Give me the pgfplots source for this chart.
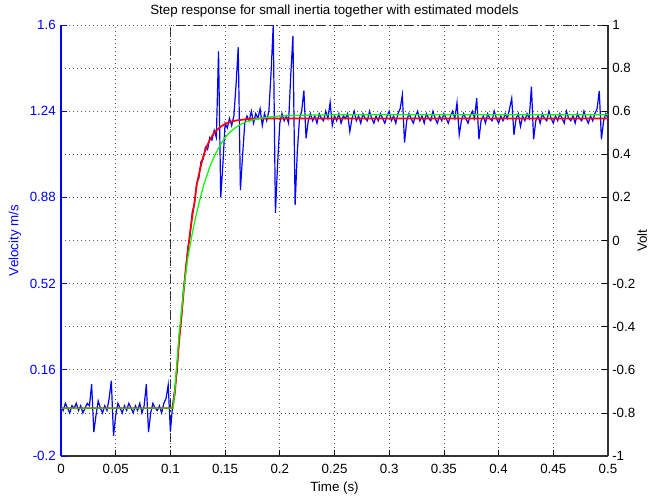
\documentclass[border=0pt]{standalone}
\usepackage{fontspec}
\setmainfont{Liberation Sans}
\usepackage{pgfplots}
\pgfplotsset{compat=1.18}
\definecolor{mblue}{RGB}{0,0,255}
\definecolor{mred}{RGB}{255,0,0}
\definecolor{mgreen}{RGB}{0,255,0}
\begin{document}
\begin{tikzpicture}
% right axis (Volt), x axis, grids, step input
\begin{axis}[
  scale only axis, width=410.25pt, height=323.25pt,
  xmin=0, xmax=0.5, ymin=-1, ymax=1,
  axis x line*=bottom, axis y line*=right,
  axis on top,
  xtick={0,0.05,0.1,0.15,0.2,0.25,0.3,0.35,0.4,0.45,0.5},
  xticklabels={0,0.05,0.1,0.15,0.2,0.25,0.3,0.35,0.4,0.45,0.5},
  ytick={-1,-0.8,-0.6,-0.4,-0.2,0,0.2,0.4,0.6,0.8,1},
  yticklabels={-1,-0.8,-0.6,-0.4,-0.2,0,0.2,0.4,0.6,0.8,1},
  tick align=inside, major tick length=4.5pt,
  xmajorgrids, ymajorgrids,
  grid style={black!65, line width=0.6pt, dash pattern=on 0.6pt off 2.4pt},
  axis line style={black!80, line width=1.2pt},
  every tick/.style={black, line width=0.6pt},
  xticklabel style={anchor=base, inner sep=0pt, yshift=-13pt},
  yticklabel style={anchor=west, inner sep=0pt, xshift=3pt},
  xlabel={Time (s)},
  xlabel style={at={(axis description cs:0.5,0)}, anchor=base, yshift=-26.8pt},
  ylabel={Volt},
  ylabel style={at={(axis description cs:1,0.5)}, anchor=center, yshift=-25.5pt},
  every axis title shift=0pt,
  title={Step response for small inertia together with estimated models},
  title style={at={(axis description cs:0.5,1)}, anchor=base, yshift=8pt},
]
\addplot[black!85, line width=1.2pt, dash pattern=on 7pt off 2.5pt on 1.2pt off 2.5pt] coordinates {(0,-1) (0.1,-1) (0.1,1) (0.5,1)};
\end{axis}
% left axis (velocity)
\begin{axis}[
  scale only axis, width=410.25pt, height=323.25pt,
  xmin=0, xmax=0.5, ymin=-0.2, ymax=1.6,
  axis x line=none, axis y line*=left,
  ytick={-0.2,0.16,0.52,0.88,1.24,1.6},
  yticklabels={-0.2,0.16,0.52,0.88,1.24,1.6},
  tick align=inside, major tick length=4.5pt,
  axis line style={mblue, line width=0.8pt},
  every tick/.style={mblue, line width=0.6pt},
  yticklabel style={anchor=east, inner sep=0pt, xshift=-3.75pt, text=mblue},
  ylabel={Velocity m/s},
  ylabel style={at={(axis description cs:0,0.5)}, anchor=center, yshift=34.5pt, text=mblue},
]
\addplot[mblue, line width=0.9pt] coordinates {
(0.000,0.01) (0.002,-0.01) (0.004,0.02) (0.006,0.00) (0.008,-0.02) (0.010,0.01)
(0.012,0.00) (0.014,0.02) (0.016,-0.01) (0.018,0.01) (0.020,-0.02) (0.022,0.00)
(0.024,0.02) (0.026,0.01) (0.028,0.10) (0.030,-0.10) (0.032,-0.03) (0.034,0.03)
(0.036,0.00) (0.038,-0.02) (0.040,0.01) (0.042,-0.01) (0.044,0.04) (0.046,0.115)
(0.048,-0.116) (0.050,-0.03) (0.052,0.02) (0.054,0.00) (0.056,-0.02) (0.058,0.01)
(0.060,-0.01) (0.062,0.02) (0.064,0.00) (0.066,-0.02) (0.068,0.01) (0.070,-0.01)
(0.072,0.02) (0.074,-0.02) (0.076,0.01) (0.078,0.10) (0.080,-0.10) (0.082,-0.02)
(0.084,0.02) (0.086,0.00) (0.088,-0.01) (0.090,0.01) (0.092,-0.02) (0.094,0.02)
(0.096,0.04) (0.098,0.097) (0.100,-0.098) (0.102,0.01) (0.104,0.08) (0.106,0.15)
(0.108,0.30) (0.110,0.37) (0.112,0.50) (0.114,0.57) (0.116,0.67) (0.118,0.72)
(0.120,0.82) (0.122,0.85) (0.124,0.94) (0.126,0.96) (0.128,1.03) (0.130,1.04)
(0.132,1.09) (0.134,1.08) (0.136,1.13) (0.138,1.12) (0.140,1.16) (0.142,1.13)
(0.144,1.49) (0.146,0.88) (0.148,1.02) (0.150,1.19) (0.152,1.17) (0.154,1.21)
(0.156,1.18) (0.158,1.22) (0.160,1.35) (0.162,1.507) (0.164,0.911) (0.166,1.057)
(0.168,1.19) (0.170,1.22) (0.172,1.20) (0.174,1.24) (0.176,1.19) (0.178,1.23)
(0.180,1.21) (0.182,1.25) (0.184,1.18) (0.186,1.23) (0.188,1.20) (0.190,1.24)
(0.192,1.40) (0.194,1.60) (0.196,0.815) (0.198,1.02) (0.200,1.19) (0.202,1.23)
(0.204,1.20) (0.206,1.22) (0.208,1.19) (0.210,1.39) (0.212,1.554) (0.214,0.848)
(0.216,1.07) (0.218,1.21) (0.220,1.24) (0.222,1.326) (0.224,1.127) (0.226,1.20)
(0.228,1.23) (0.230,1.20) (0.232,1.22) (0.234,1.19) (0.236,1.23) (0.238,1.21)
(0.240,1.20) (0.242,1.24) (0.244,1.21) (0.246,1.277) (0.248,1.18) (0.250,1.22)
(0.252,1.20) (0.254,1.23) (0.256,1.19) (0.258,1.22) (0.260,1.21) (0.262,1.23)
(0.264,1.155) (0.266,1.21) (0.268,1.24) (0.270,1.20) (0.272,1.22) (0.274,1.19)
(0.276,1.23) (0.278,1.21) (0.280,1.20) (0.282,1.24) (0.284,1.21) (0.286,1.19)
(0.288,1.22) (0.290,1.20) (0.292,1.23) (0.294,1.21) (0.296,1.19) (0.298,1.22)
(0.300,1.24) (0.302,1.20) (0.304,1.22) (0.306,1.19) (0.308,1.23) (0.310,1.25)
(0.312,1.308) (0.314,1.109) (0.316,1.20) (0.318,1.23) (0.320,1.21) (0.322,1.19)
(0.324,1.22) (0.326,1.24) (0.328,1.20) (0.330,1.22) (0.332,1.19) (0.334,1.23)
(0.336,1.21) (0.338,1.20) (0.340,1.24) (0.342,1.21) (0.344,1.19) (0.346,1.22)
(0.348,1.20) (0.350,1.23) (0.352,1.21) (0.354,1.19) (0.356,1.22) (0.358,1.24)
(0.360,1.21) (0.362,1.276) (0.364,1.141) (0.366,1.20) (0.368,1.23) (0.370,1.21)
(0.372,1.19) (0.374,1.22) (0.376,1.24) (0.378,1.21) (0.380,1.294) (0.382,1.123)
(0.384,1.20) (0.386,1.22) (0.388,1.19) (0.390,1.23) (0.392,1.21) (0.394,1.20)
(0.396,1.24) (0.398,1.21) (0.400,1.19) (0.402,1.22) (0.404,1.20) (0.406,1.23)
(0.408,1.21) (0.410,1.25) (0.412,1.294) (0.414,1.141) (0.416,1.21) (0.418,1.23)
(0.420,1.176) (0.422,1.22) (0.424,1.20) (0.426,1.23) (0.428,1.21) (0.430,1.343)
(0.432,1.123) (0.434,1.20) (0.436,1.22) (0.438,1.19) (0.440,1.23) (0.442,1.21)
(0.444,1.20) (0.446,1.24) (0.448,1.21) (0.450,1.19) (0.452,1.22) (0.454,1.20)
(0.456,1.23) (0.458,1.21) (0.460,1.19) (0.462,1.24) (0.464,1.21) (0.466,1.20)
(0.468,1.22) (0.470,1.19) (0.472,1.23) (0.474,1.21) (0.476,1.20) (0.478,1.24)
(0.480,1.21) (0.482,1.19) (0.484,1.22) (0.486,1.20) (0.488,1.23) (0.490,1.25)
(0.492,1.325) (0.494,1.123) (0.496,1.20) (0.498,1.23) (0.500,1.21)
};
\addplot[mred, line width=1.3pt] coordinates {
(0,0) (0.102,0) (0.104,0.06) (0.106,0.17) (0.108,0.28) (0.110,0.38) (0.112,0.48)
(0.114,0.58) (0.116,0.66) (0.118,0.735) (0.120,0.80) (0.122,0.86) (0.124,0.93)
(0.126,0.975) (0.128,1.015) (0.130,1.05) (0.133,1.09) (0.136,1.12) (0.140,1.15)
(0.145,1.172) (0.150,1.187) (0.155,1.196) (0.160,1.201) (0.170,1.207) (0.180,1.21)
(0.5,1.21)
};
\addplot[mgreen, line width=0.9pt] coordinates {
(0,0) (0.1025,0) (0.104,0.07) (0.106,0.19) (0.108,0.31) (0.110,0.40) (0.112,0.49)
(0.114,0.56) (0.116,0.63) (0.118,0.68) (0.120,0.73) (0.122,0.775) (0.125,0.835)
(0.128,0.89) (0.131,0.94) (0.134,0.98) (0.137,1.02) (0.140,1.05) (0.145,1.095)
(0.150,1.13) (0.155,1.155) (0.160,1.173) (0.165,1.187) (0.170,1.197) (0.180,1.209)
(0.190,1.216) (0.200,1.22) (0.220,1.223) (0.250,1.225) (0.5,1.225)
};
\end{axis}
\pgfresetboundingbox
\path[use as bounding box] (-45.75pt,-33.75pt) rectangle (441pt,342pt);
\end{tikzpicture}
\end{document}
